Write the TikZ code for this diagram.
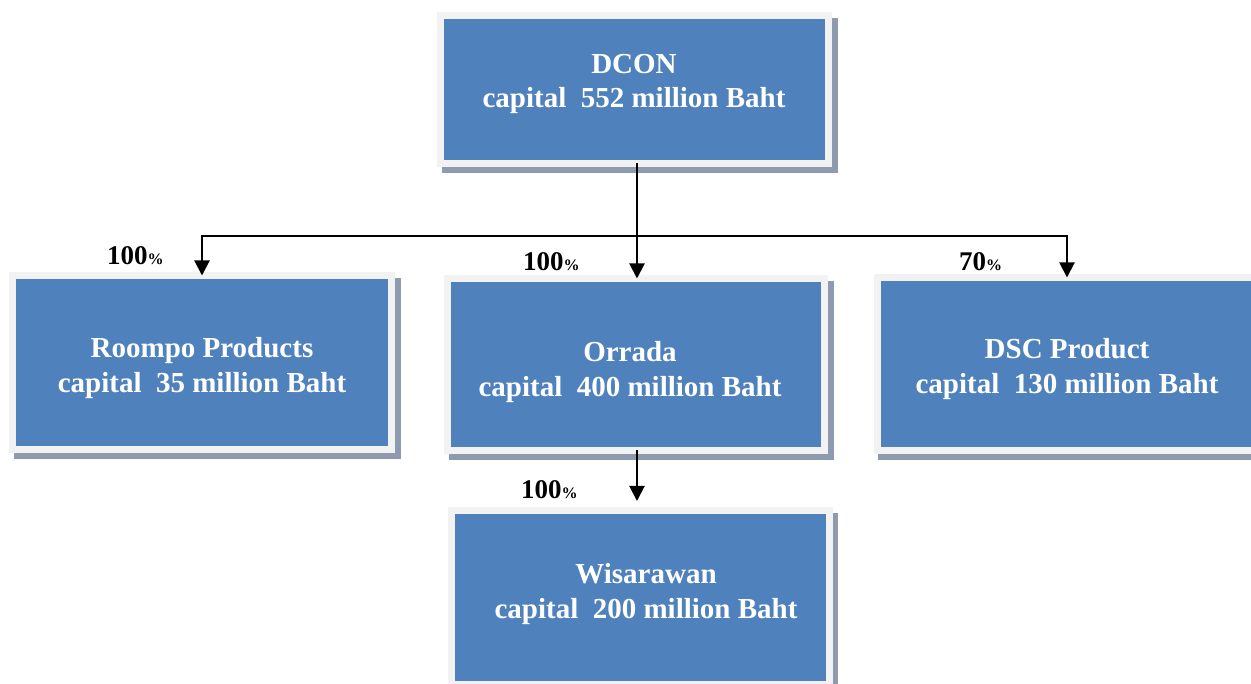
\documentclass[tikz,border=0pt]{standalone}
\usepackage{fontspec}
\setmainfont{Liberation Serif}
\usetikzlibrary{arrows.meta,backgrounds}
\definecolor{boxblue}{HTML}{4F81BD}
\definecolor{framegray}{HTML}{F2F2F2}
\definecolor{shadowgray}{HTML}{8E9BAE}
\begin{document}
\begin{tikzpicture}[x=1pt,y=-1pt,
  box/.style={rectangle, fill=boxblue, draw=framegray, line width=7pt, inner sep=0pt, outer sep=0pt},
  btext/.style={text=white, font=\bfseries\fontsize{29}{34.5}\selectfont, align=center, inner sep=0pt},
  pct/.style={font=\bfseries\fontsize{27}{27}\selectfont, inner sep=0pt, anchor=base west},
  link/.style={line width=2pt, draw=black},
  arr/.style={link, -{Triangle[width=15pt,length=15pt]}},
]
\useasboundingbox (0,0) rectangle (1251,684);
\clip (0,0) rectangle (1251,684);

\node[box, minimum width=388pt, minimum height=148pt] (dcon)   at (634.5,89.5) {};
\node[box, minimum width=379pt, minimum height=174pt] (roompo) at (202,362.5) {};
\node[box, minimum width=377pt, minimum height=172pt] (orrada) at (636,364.5) {};
\node[box, minimum width=380pt, minimum height=173pt] (dsc)    at (1067,364) {};
\node[box, minimum width=378pt, minimum height=174pt] (wis)    at (640,597) {};

\begin{scope}[on background layer]
  \foreach \n in {dcon,roompo,orrada,dsc,wis}
    \fill[shadowgray] ([shift={(1,2.5)}]\n.north west) rectangle ([shift={(9,9.5)}]\n.south east);
\end{scope}

\node[btext] (tdcon)   at (634,84)  {DCON\\capital\ \ 552 million Baht};
\node[btext] (troompo) at (202,368) {Roompo Products\\capital\ \ 35 million Baht};
\node[btext] (torrada) at (630,372) {Orrada\\capital\ \ 400 million Baht};
\node[btext] (tdsc)    at (1067,369) {DSC Product\\capital\ \ 130 million Baht};
\node[btext] (twis)    at (646,594) {Wisarawan\\capital\ \ 200 million Baht};

\coordinate (j) at (637,236);
\draw[link] (dcon.south -| j) -- (j);
\draw[arr] (j) -| (roompo.north);
\draw[arr] (j) -| (dsc.north);
\draw[arr] (j) -- (orrada.north -| j);
\draw[arr, shorten >=9pt] (orrada.south -| j) -- (wis.north -| j);

\node[pct] (p1) at (107,265) {100{\fontsize{16}{16}\selectfont\%}};
\node[pct] (p2) at (523,271) {100{\fontsize{16}{16}\selectfont\%}};
\node[pct] (p3) at (959,271) {70{\fontsize{16}{16}\selectfont\%}};
\node[pct] (p4) at (521,499) {100{\fontsize{16}{16}\selectfont\%}};
\end{tikzpicture}
\end{document}
